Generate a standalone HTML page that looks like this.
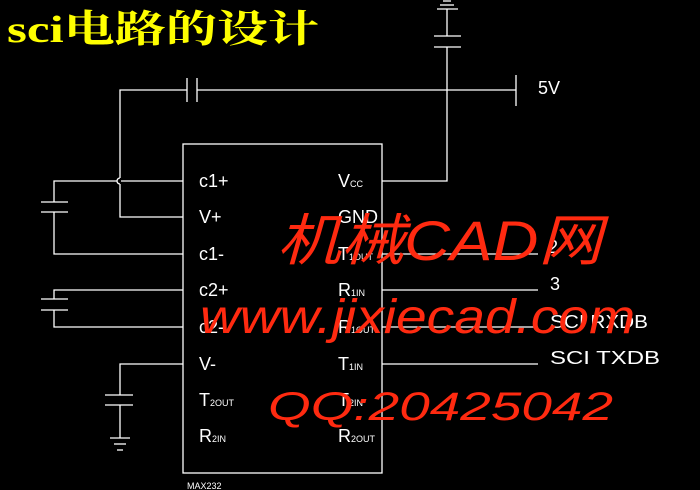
<!DOCTYPE html>
<html><head><meta charset="utf-8"><style>
html,body{margin:0;padding:0;background:#000;width:700px;height:490px;overflow:hidden}
svg{display:block}
text{font-family:"Liberation Sans",sans-serif;fill:#fff}
</style></head><body>
<svg width="700" height="490" viewBox="0 0 700 490">
<g stroke="#fff" stroke-width="1.3" fill="none">
<rect x="183" y="144" width="199" height="329"/>
<line x1="443" y1="1" x2="451" y2="1"/><line x1="440" y1="5" x2="454" y2="5"/><line x1="437" y1="9" x2="458" y2="9"/>
<line x1="447" y1="9" x2="447" y2="36"/>
<line x1="434" y1="36" x2="461" y2="36"/><line x1="434" y1="47" x2="461" y2="47"/>
<polyline points="447,47 447,181 382,181"/>
<line x1="197" y1="90" x2="516" y2="90"/>
<line x1="516" y1="75" x2="516" y2="106"/>
<line x1="187" y1="78" x2="187" y2="102"/><line x1="197" y1="78" x2="197" y2="102"/>
<polyline points="187,90 120,90 120,178"/>
<path d="M120,178 a3,3 0 0 0 0,6"/>
<polyline points="120,184 120,217 183,217"/>
<polyline points="117,181 54,181 54,202"/>
<line x1="121" y1="181" x2="183" y2="181"/>
<line x1="41" y1="202" x2="68" y2="202"/><line x1="41" y1="212" x2="68" y2="212"/>
<polyline points="54,212 54,254 183,254"/>
<polyline points="183,290 54,290 54,299"/>
<line x1="41" y1="299" x2="68" y2="299"/><line x1="41" y1="310" x2="68" y2="310"/>
<polyline points="54,310 54,327 183,327"/>
<polyline points="183,364 120,364 120,395"/>
<line x1="105" y1="395" x2="133" y2="395"/><line x1="105" y1="405" x2="133" y2="405"/>
<line x1="120" y1="405" x2="120" y2="438"/>
<line x1="110" y1="438" x2="130" y2="438"/><line x1="114" y1="444" x2="126" y2="444"/><line x1="117" y1="450" x2="123" y2="450"/>
<line x1="382" y1="254" x2="538" y2="254"/>
<line x1="382" y1="290" x2="538" y2="290"/>
<line x1="382" y1="327" x2="538" y2="327"/>
<line x1="382" y1="364" x2="538" y2="364"/>
</g>
<text x="7" y="42" textLength="312" lengthAdjust="spacingAndGlyphs" style="font-family:'Liberation Serif','Noto Serif CJK SC',serif;font-weight:bold;font-size:38px;fill:#ff0">sci电路的设计</text>
<g font-size="18">
<text x="199" y="187">c1+</text>
<text x="199" y="223">V+</text>
<text x="199" y="260">c1-</text>
<text x="199" y="296">c2+</text>
<text x="199" y="333">c2-</text>
<text x="199" y="370">V-</text>
<text x="199" y="406">T<tspan font-size="9">2OUT</tspan></text>
<text x="199" y="442">R<tspan font-size="9">2IN</tspan></text>
<text x="338" y="187">V<tspan font-size="9">CC</tspan></text>
<text x="338" y="223">GND</text>
<text x="338" y="260">T<tspan font-size="9">1OUT</tspan></text>
<text x="338" y="296">R<tspan font-size="9">1IN</tspan></text>
<text x="338" y="333">R<tspan font-size="9">1OUT</tspan></text>
<text x="338" y="370">T<tspan font-size="9">1IN</tspan></text>
<text x="338" y="406">T<tspan font-size="9">2IN</tspan></text>
<text x="338" y="442">R<tspan font-size="9">2OUT</tspan></text>
<text x="548" y="253">2</text>
<text x="550" y="290">3</text>
<text x="550" y="328" textLength="98" lengthAdjust="spacingAndGlyphs">SCI RXDB</text>
<text x="550" y="364" textLength="110" lengthAdjust="spacingAndGlyphs">SCI TXDB</text>
<text x="538" y="94">5V</text>
</g>
<text x="187" y="489" font-size="9">MAX232</text>
<g style="font-family:'Liberation Sans','Noto Sans CJK SC',sans-serif;font-style:italic">
<text x="277" y="260" font-size="56" textLength="325" lengthAdjust="spacingAndGlyphs" style="fill:#ff2a10">机械CAD网</text>
<text x="200" y="333" font-size="48" textLength="435" lengthAdjust="spacingAndGlyphs" style="fill:#ff2a10">www.jixiecad.com</text>
<text x="268" y="420" font-size="40" textLength="345" lengthAdjust="spacingAndGlyphs" style="fill:#ff2a10">QQ:20425042</text>
</g>
</svg>
</body></html>
